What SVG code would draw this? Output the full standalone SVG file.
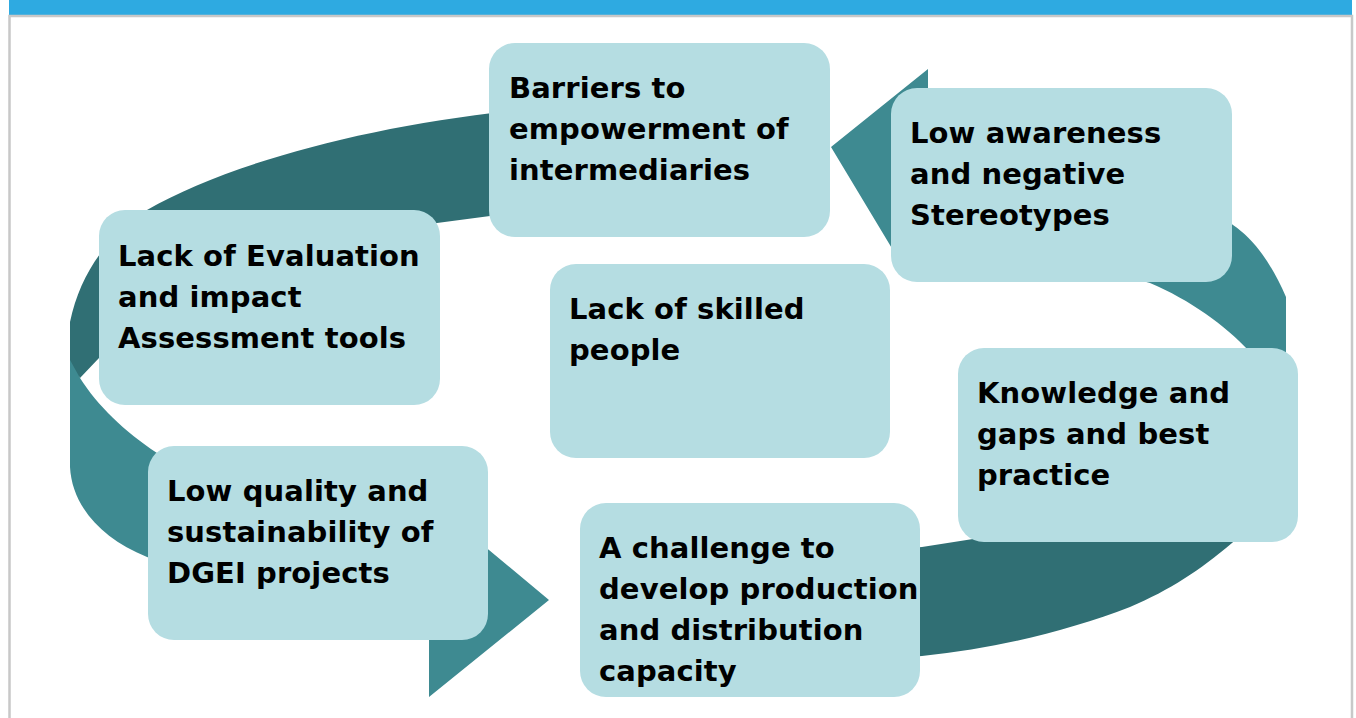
<svg xmlns="http://www.w3.org/2000/svg" width="1356" height="718" viewBox="0 0 1356 718">
<style>
.box{fill:#b5dde2}
.dark{fill:#306f74}
.light{fill:#3e8a91}
.t{font-family:"DejaVu Sans","Noto Sans",sans-serif;font-weight:700;font-size:29px;letter-spacing:0.1px;fill:#000}
</style>
<rect x="0" y="0" width="1356" height="718" fill="#ffffff"/>
<rect x="9" y="0" width="1343" height="15" fill="#2eaae1"/>
<path d="M9.5,718 V16 H1352 V718" fill="none" stroke="#c8c8c8" stroke-width="2.5"/>
<g id="connectors">
  <path class="light" d="M70,345 L70,467 C72,505 100,538 147,557 C240,590 340,615 429,628 L429,697 L549,600 L429,500 L429,545 C320,530 220,495 157,453 C125,432 97,405 80,378 Z"/>
  <path class="dark" d="M70,360 L70,322 C80,275 105,238 147,210 C230,162 380,122 540,108 L700,102 L700,212 L490,216 L437,223 C300,245 150,300 99,358 L80,378 Z"/>
  <path class="dark" d="M700,565 L922,547 L973,539 L1200,470 L1286,420 L1286,470 C1270,505 1250,528 1232,543 C1200,570 1170,590 1130,607 C1070,630 1000,648 922,656 L700,672 Z"/>
  <path class="light" d="M928,69 L831,147 L905,270 L928,255 C1020,260 1100,268 1150,283 C1190,300 1225,325 1250,352 L1286,420 L1286,297 C1270,260 1252,238 1233,225 C1150,150 1050,110 928,100 Z"/>
</g>
<g id="n1"><rect class="box" x="489" y="43" width="341" height="194" rx="26"/>
<text class="t" x="509" y="98">Barriers to</text><text class="t" x="509" y="139">empowerment of</text><text class="t" x="509" y="180">intermediaries</text></g>
<g id="n2"><rect class="box" x="891" y="88" width="341" height="194" rx="26"/>
<text class="t" x="910" y="143">Low awareness</text><text class="t" x="910" y="184">and negative</text><text class="t" x="910" y="225">Stereotypes</text></g>
<g id="n3"><rect class="box" x="99" y="210" width="341" height="195" rx="26"/>
<text class="t" x="118" y="266">Lack of Evaluation</text><text class="t" x="118" y="307">and impact</text><text class="t" x="118" y="348">Assessment tools</text></g>
<g id="n4"><rect class="box" x="550" y="264" width="340" height="194" rx="26"/>
<text class="t" x="569" y="319">Lack of skilled</text><text class="t" x="569" y="360">people</text></g>
<g id="n5"><rect class="box" x="958" y="348" width="340" height="194" rx="26"/>
<text class="t" x="977" y="403">Knowledge and</text><text class="t" x="977" y="444">gaps and best</text><text class="t" x="977" y="485">practice</text></g>
<g id="n6"><rect class="box" x="148" y="446" width="340" height="194" rx="26"/>
<text class="t" x="167" y="501">Low quality and</text><text class="t" x="167" y="542">sustainability of</text><text class="t" x="167" y="583">DGEI projects</text></g>
<g id="n7"><rect class="box" x="580" y="503" width="340" height="194" rx="26"/>
<text class="t" x="599" y="558">A challenge to</text><text class="t" x="599" y="599">develop production</text><text class="t" x="599" y="640">and distribution</text><text class="t" x="599" y="681">capacity</text></g>
</svg>
